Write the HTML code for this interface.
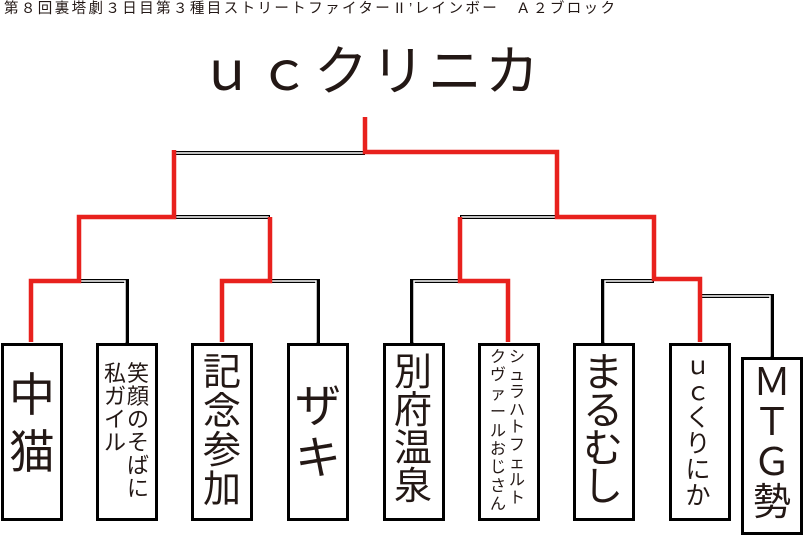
<!DOCTYPE html>
<html><head><meta charset="utf-8"><style>
body{margin:0;width:803px;height:538px;background:#fff;overflow:hidden;position:relative;font-family:"Liberation Sans","Noto Sans CJK JP",sans-serif;color:#231815}
.b{position:absolute;border:3px solid #000;box-sizing:border-box;width:62px;height:178px;top:343px;background:#fff}
.c{position:absolute;text-align:center;white-space:nowrap;width:60px}
svg{position:absolute;left:0;top:0}
</style></head><body>
<div style="position:absolute;left:4px;top:0px;font-size:14.5px;line-height:18px;white-space:nowrap;letter-spacing:2.4px">第８回裏塔劇３日目第３種目ストリートファイターⅡ’レインボー　Ａ２ブロック</div>
<div style="position:absolute;left:200px;top:40px;font-size:54px;line-height:64px;white-space:nowrap;letter-spacing:3px">ｕｃクリニカ</div>
<svg width="803" height="538">
<g fill="none" stroke-linecap="square">
<g stroke="#000" stroke-width="4">
<path d="M176 153H363"/><path d="M177 217H268"/><path d="M79 281H127V342"/><path d="M270 281H318V342"/>
<path d="M462 217H555"/><path d="M412 342V281H460"/><path d="M603 342V281H652"/><path d="M702 296H772V356"/>
</g>
<g stroke="#fff" stroke-width="1.5">
<path d="M176 153H363"/><path d="M177 217H268"/><path d="M79 281H125V342"/><path d="M270 281H316V342"/>
<path d="M462 217H555"/><path d="M414 342V281H460"/><path d="M605 342V281H652"/><path d="M702 296H770V356"/>
</g>
<g stroke="#e8211d" stroke-width="4.5" stroke-linecap="butt">
<path d="M365 117V152H557V217H654V279H700V342"/>
<path d="M174 150V217H79V281H31V342"/>
<path d="M270 217V281H222V342"/>
<path d="M460 217V281H508V342"/>
</g>
</g>
</svg>
<div class="b" style="left:1px"></div>
<div class="c" style="left:2px;top:367px;font-size:46px;line-height:57px">中<br>猫</div>
<div class="b" style="left:96px"></div>
<div class="c" style="left:108px;top:362px;font-size:22px;line-height:23px">笑<br>顔<br>の<br>そ<br>ば<br>に</div>
<div class="c" style="left:85px;top:362px;font-size:22px;line-height:23px">私<br>ガ<br>イ<br>ル</div>
<div class="b" style="left:191px"></div>
<div class="c" style="left:192px;top:354px;font-size:38px;line-height:39px">記<br>念<br>参<br>加</div>
<div class="b" style="left:287px"></div>
<div class="c" style="left:288px;top:380px;font-size:46px;line-height:52px">ザ<br>キ</div>
<div class="b" style="left:383px"></div>
<div class="c" style="left:383px;top:354px;font-size:38px;line-height:38px">別<br>府<br>温<br>泉</div>
<div class="b" style="left:478px"></div>
<div class="c" style="left:487px;top:349px;font-size:16px;line-height:17.6px">シ<br>ュ<br>ラ<br>ハ<br>ト<br>フ<br>ェ<br>ル<br>ト</div>
<div class="c" style="left:468px;top:349px;font-size:16px;line-height:18.4px">ク<br>ヴ<br>ァ<br>ー<br>ル<br>お<br>じ<br>さ<br>ん</div>
<div class="b" style="left:573px"></div>
<div class="c" style="left:573px;top:354px;font-size:40px;line-height:38px">ま<br>る<br>む<br>し</div>
<div class="b" style="left:669px"></div>
<div class="c" style="left:668px;top:353px;font-size:25px;line-height:26px">ｕ<br>ｃ<br>く<br>り<br>に<br>か</div>
<div class="b" style="left:741px;top:357px"></div>
<div class="c" style="left:742px;top:363px;font-size:38px;line-height:40px">Ｍ<br>Ｔ<br>Ｇ<br>勢</div>
</body></html>
